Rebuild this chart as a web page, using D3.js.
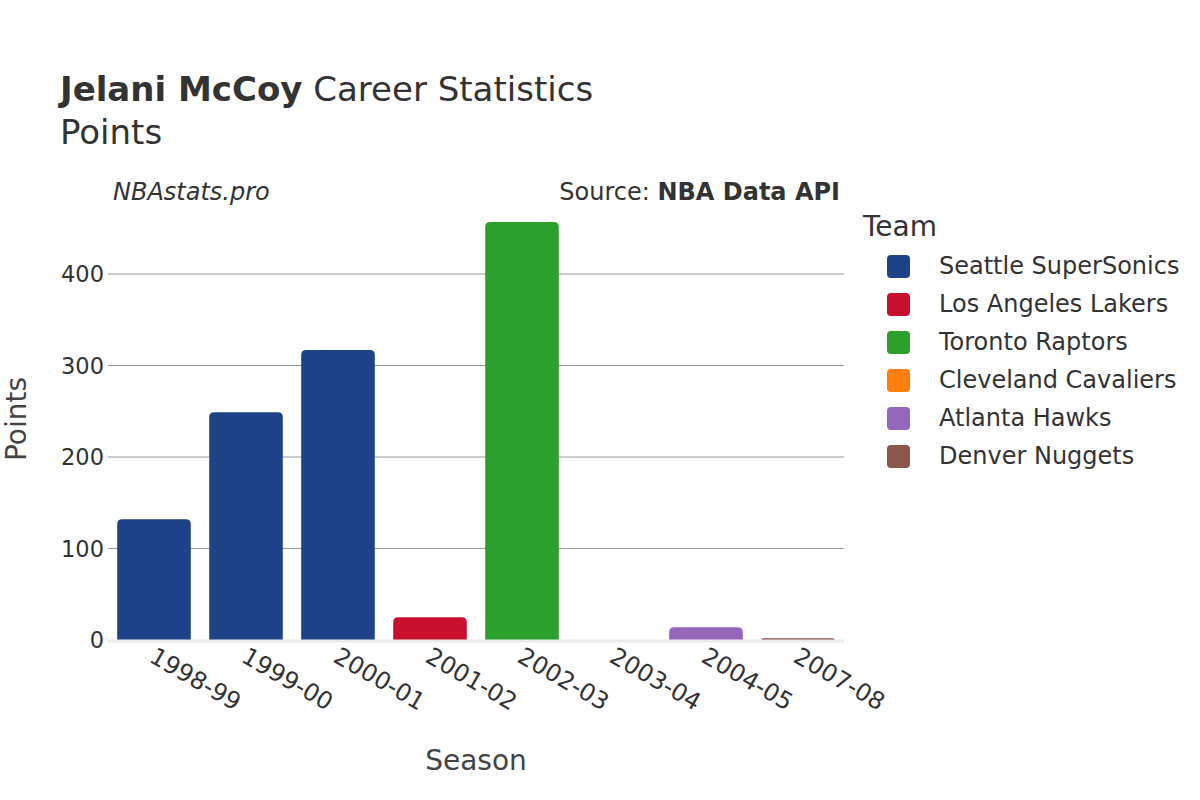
<!DOCTYPE html>
<html>
<head>
<meta charset="utf-8">
<script src="https://cdn.jsdelivr.net/npm/d3@7"></script>
<style>
  body { margin: 0; background: white; }
  text { font-family: "DejaVu Sans", sans-serif; fill: #333; }
</style>
</head>
<body>
<svg id="chart"></svg>
<script>
const seasons = ["1998-99", "1999-00", "2000-01", "2001-02", "2002-03", "2003-04", "2004-05", "2007-08"];
const points = [132, 249, 317, 25, 457, 0, 14, 2];
const seasonTeams = ["Seattle SuperSonics", "Seattle SuperSonics", "Seattle SuperSonics", "Los Angeles Lakers",
    "Toronto Raptors", "Cleveland Cavaliers", "Atlanta Hawks", "Denver Nuggets"];
const teams = ["Seattle SuperSonics", "Los Angeles Lakers", "Toronto Raptors", "Cleveland Cavaliers", "Atlanta Hawks", "Denver Nuggets"];
const teamColors = ["#1d4287", "#c8102e", "#2ca02c", "#ff7f0e", "#9467bd", "#8c564b"];
const yTicks = [0, 100, 200, 300, 400];

const width = 1200;
const height = 800;
const margin = { top: 210, right: 356, bottom: 160, left: 108 };
const innerW = width - margin.left - margin.right;
const innerH = height - margin.top - margin.bottom;

const data = seasons.map((s, i) => ({ season: s, value: points[i], team: seasonTeams[i] }));

const svg = d3.select("#chart")
    .attr("width", width)
    .attr("height", height);

const color = d3.scaleOrdinal().domain(teams).range(teamColors);

const x = d3.scaleBand()
    .domain(seasons)
    .range([0, innerW])
    .paddingInner(0.2)
    .paddingOuter(0.1);

const y = d3.scaleLinear()
    .domain([0, 470])
    .range([innerH, 0]);

const g = svg.append("g")
    .attr("transform", `translate(${margin.left},${margin.top})`);

//grid lines
g.selectAll("line.grid")
    .data(yTicks.filter(d => d > 0))
    .enter()
    .append("line")
    .attr("class", "grid")
    .attr("x1", 0)
    .attr("x2", innerW)
    .attr("y1", d => y(d))
    .attr("y2", d => y(d))
    .style("stroke", "#999")
    .style("stroke-width", 1);

//y tick labels
const yAxis = d3.axisLeft(y).tickValues(yTicks).tickSize(0).tickPadding(4);
const yAxisGroup = g.append("g");
yAxis(yAxisGroup);
yAxisGroup.select(".domain").remove();
yAxisGroup.selectAll("text")
    .style("font-size", "22.5px")
    .style("fill", "#333")
    .attr("dy", "0.35em");

//bars with rounded tops
function barPath(d) {
    const x0 = x(d.season);
    const w = x.bandwidth();
    const y0 = y(0);
    const h = y0 - y(d.value);
    const r = Math.min(5, h, w / 2);
    if (h <= 0) return "";
    return `M${x0},${y0}V${y0 - h + r}Q${x0},${y0 - h} ${x0 + r},${y0 - h}` +
        `H${x0 + w - r}Q${x0 + w},${y0 - h} ${x0 + w},${y0 - h + r}V${y0}Z`;
}

g.selectAll("path.bar")
    .data(data)
    .enter()
    .append("path")
    .attr("class", "bar")
    .attr("d", barPath)
    .style("fill", d => color(d.team));

//zero line
g.append("line")
    .attr("x1", 0)
    .attr("x2", innerW)
    .attr("y1", y(0) + 1)
    .attr("y2", y(0) + 1)
    .style("stroke", "#ebebeb")
    .style("stroke-width", 3);

//x tick labels, rotated
const xAxis = d3.axisBottom(x).tickSize(0).tickPadding(0);
const xAxisGroup = g.append("g").attr("transform", `translate(0,${innerH})`);
xAxis(xAxisGroup);
xAxisGroup.select(".domain").remove();
xAxisGroup.selectAll("text")
    .style("font-size", "24px")
    .style("fill", "#333")
    .attr("text-anchor", "start")
    .attr("dy", null)
    .attr("y", 0)
    .attr("transform", "translate(-6,21) rotate(30)");

//axis titles
svg.append("text")
    .attr("x", margin.left + innerW / 2)
    .attr("y", 770)
    .attr("text-anchor", "middle")
    .style("font-size", "28px")
    .style("fill", "#444")
    .text("Season");

svg.append("text")
    .attr("transform", `translate(26,${margin.top + innerH / 2 - 6}) rotate(-90)`)
    .attr("text-anchor", "middle")
    .style("font-size", "28px")
    .style("fill", "#444")
    .text("Points");

//title
const title = svg.append("text")
    .attr("x", 60)
    .attr("y", 101)
    .style("font-size", "34px");
title.append("tspan").style("font-weight", "bold").text("Jelani McCoy");
title.append("tspan").text(" Career Statistics");

svg.append("text")
    .attr("x", 60)
    .attr("y", 144)
    .style("font-size", "34px")
    .text("Points");

svg.append("text")
    .attr("x", 113)
    .attr("y", 200)
    .style("font-size", "24px")
    .style("font-style", "italic")
    .text("NBAstats.pro");

const source = svg.append("text")
    .attr("x", 840)
    .attr("y", 200)
    .attr("text-anchor", "end")
    .style("font-size", "24px");
source.append("tspan").text("Source: ");
source.append("tspan").style("font-weight", "bold").text("NBA Data API");

//legend
svg.append("text")
    .attr("x", 863)
    .attr("y", 236)
    .style("font-size", "28px")
    .text("Team");

const legend = svg.append("g")
    .attr("transform", "translate(887,266)");

const items = legend.selectAll("g")
    .data(teams)
    .enter()
    .append("g")
    .attr("transform", (d, i) => `translate(0,${i * 38})`);

items.append("rect")
    .attr("x", 0)
    .attr("y", -11)
    .attr("width", 23)
    .attr("height", 23)
    .attr("rx", 4)
    .style("fill", d => color(d));

items.append("text")
    .attr("x", 52)
    .attr("y", 0)
    .attr("dy", "0.35em")
    .style("font-size", "24px")
    .text(d => d);
</script>
</body>
</html>
